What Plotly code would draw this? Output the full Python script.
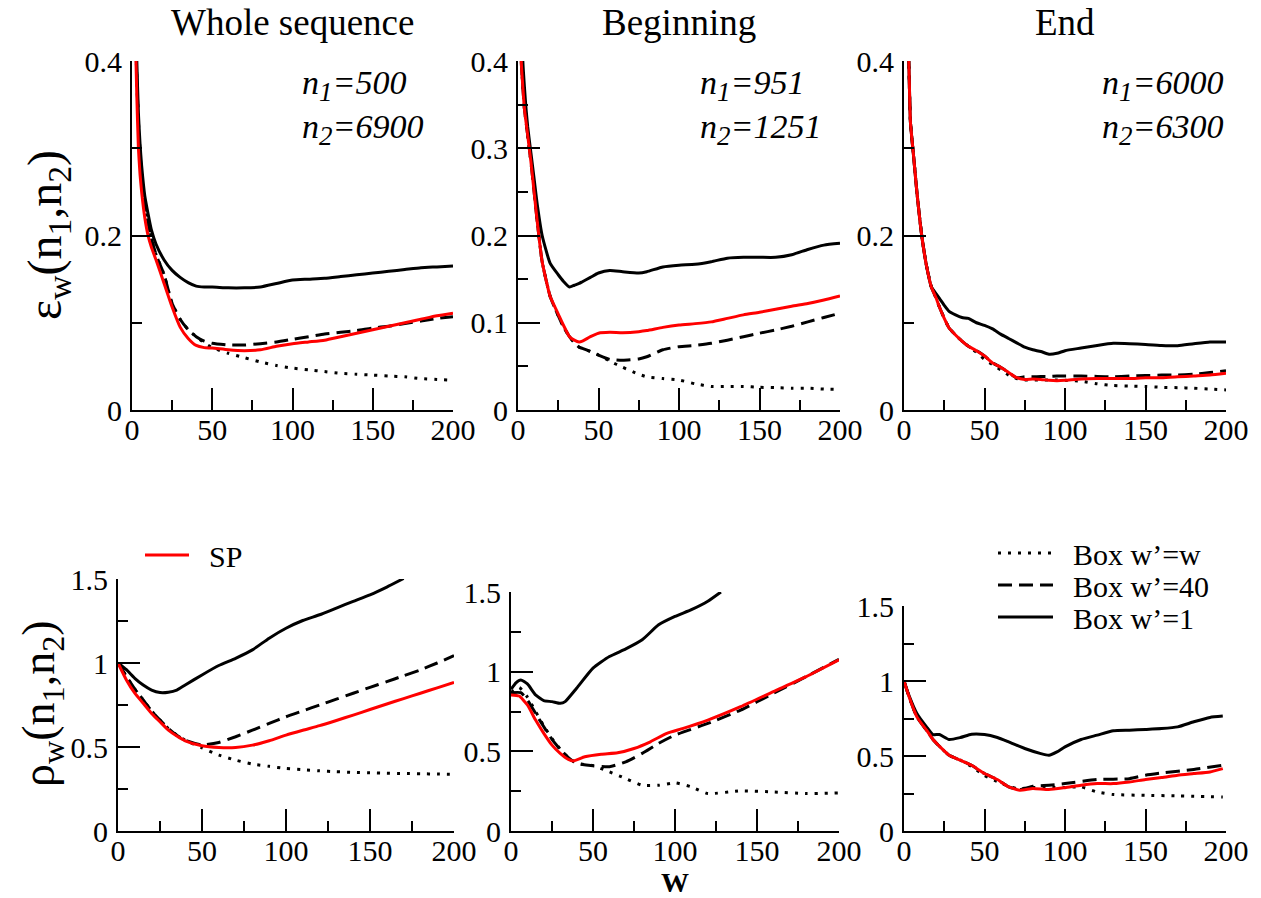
import plotly.graph_objects as go

# ---------------- data ----------------
# Top row: epsilon_w(n1,n2)
w_tl = [1,2,3,4,5,6,8,10,12,15,20,25,30,35,40,45,50,60,70,80,90,100,110,120,130,140,150,160,170,180,190,200]
eps_whole_box1 = [0.60,0.48,0.40,0.34,0.305,0.28,0.245,0.225,0.207,0.19,0.172,0.16,0.152,0.146,0.142,0.141,0.141,0.140,0.140,0.141,0.145,0.149,0.150,0.151,0.153,0.155,0.157,0.159,0.161,0.163,0.164,0.165]
eps_whole_sp = [0.55,0.44,0.36,0.30,0.27,0.25,0.22,0.20,0.187,0.172,0.145,0.118,0.095,0.082,0.074,0.0715,0.071,0.069,0.068,0.069,0.073,0.076,0.078,0.080,0.084,0.088,0.092,0.096,0.100,0.104,0.108,0.111]
eps_whole_box40 = [0.58,0.46,0.38,0.33,0.295,0.27,0.235,0.215,0.197,0.178,0.155,0.122,0.104,0.092,0.084,0.079,0.0765,0.0745,0.0745,0.076,0.078,0.081,0.084,0.087,0.089,0.091,0.094,0.096,0.099,0.102,0.105,0.107]
eps_whole_boxw = [0.58,0.46,0.38,0.33,0.295,0.27,0.235,0.215,0.197,0.178,0.155,0.122,0.104,0.092,0.084,0.077,0.0715,0.065,0.060,0.055,0.051,0.048,0.046,0.044,0.042,0.041,0.040,0.039,0.038,0.036,0.035,0.034]

w_tm = [1,2,3,4,5,6,8,10,12,15,20,25,28,32,35,38,40,45,50,57,65,75,80,90,100,110,120,130,140,150,160,170,180,190,200]
eps_begin_box1 = [0.60,0.48,0.40,0.37,0.345,0.325,0.295,0.265,0.235,0.20,0.168,0.155,0.148,0.141,0.143,0.145,0.147,0.152,0.157,0.160,0.1585,0.157,0.1585,0.164,0.166,0.167,0.170,0.174,0.175,0.175,0.175,0.178,0.184,0.189,0.191]
eps_begin_sp = [0.52,0.40,0.37,0.345,0.33,0.315,0.285,0.25,0.215,0.17,0.13,0.11,0.098,0.084,0.080,0.078,0.079,0.084,0.088,0.089,0.0886,0.0898,0.091,0.0947,0.0974,0.099,0.101,0.105,0.109,0.112,0.1154,0.119,0.122,0.126,0.1307]
eps_begin_box40 = [0.52,0.40,0.37,0.345,0.33,0.315,0.285,0.25,0.215,0.17,0.13,0.108,0.096,0.084,0.077,0.072,0.0707,0.067,0.063,0.058,0.057,0.0585,0.061,0.069,0.0726,0.074,0.0764,0.080,0.084,0.088,0.0917,0.096,0.101,0.106,0.111]
eps_begin_boxw = [0.52,0.40,0.37,0.345,0.33,0.315,0.285,0.25,0.215,0.17,0.13,0.108,0.096,0.084,0.077,0.072,0.0707,0.067,0.063,0.056,0.049,0.041,0.038,0.036,0.0344,0.030,0.027,0.027,0.027,0.026,0.0256,0.025,0.025,0.024,0.0237]

w_tr = [1,2,3,4,6,8,11,14,17,20,22,25,28,32,36,40,45,50,55,60,65,70,75,80,85,90,95,100,110,120,130,140,150,160,170,180,190,200]
eps_end_box1 = [0.60,0.47,0.40,0.33,0.29,0.25,0.20,0.165,0.141,0.133,0.128,0.12,0.113,0.109,0.106,0.105,0.100,0.097,0.093,0.087,0.082,0.077,0.072,0.069,0.067,0.064,0.065,0.068,0.071,0.074,0.0764,0.076,0.075,0.074,0.0737,0.076,0.078,0.078]
eps_end_sp = [0.60,0.47,0.40,0.33,0.29,0.25,0.20,0.165,0.141,0.128,0.118,0.105,0.094,0.086,0.079,0.073,0.068,0.062,0.054,0.049,0.043,0.037,0.035,0.0355,0.035,0.034,0.0336,0.034,0.0355,0.036,0.036,0.036,0.037,0.037,0.038,0.039,0.040,0.042]
eps_end_box40 = [0.60,0.47,0.40,0.33,0.29,0.25,0.20,0.165,0.141,0.128,0.118,0.105,0.094,0.086,0.079,0.073,0.068,0.062,0.054,0.049,0.043,0.037,0.038,0.038,0.0385,0.0385,0.039,0.039,0.039,0.0385,0.038,0.039,0.0394,0.040,0.040,0.041,0.043,0.045]
eps_end_boxw = [0.60,0.47,0.40,0.33,0.29,0.25,0.20,0.165,0.141,0.128,0.118,0.105,0.094,0.086,0.079,0.073,0.066,0.058,0.052,0.046,0.040,0.036,0.0345,0.0344,0.0344,0.0344,0.0344,0.034,0.033,0.030,0.028,0.0275,0.027,0.026,0.0256,0.025,0.024,0.023]

# Bottom row: rho_w(n1,n2)
w_bl = [0,5,10,15,20,25,30,35,40,50,60,70,80,90,100,110,120,130,140,150,160,170,180,190,200]
w_bl_box1 = [0,5,10,15,20,25,30,35,40,50,60,70,80,90,100,110,120,130,140,150,160,170]
rho_whole_box1 = [1.0,0.96,0.909,0.869,0.839,0.824,0.826,0.839,0.869,0.929,0.985,1.028,1.078,1.148,1.207,1.253,1.287,1.327,1.367,1.406,1.452,1.503]
rho_whole_sp = [1.0,0.899,0.82,0.76,0.70,0.65,0.60,0.565,0.537,0.507,0.497,0.497,0.511,0.537,0.571,0.60,0.627,0.658,0.69,0.723,0.756,0.788,0.82,0.852,0.885]
rho_whole_box40 = [1.0,0.92,0.845,0.78,0.715,0.66,0.61,0.57,0.54,0.512,0.527,0.561,0.60,0.64,0.68,0.715,0.75,0.785,0.82,0.855,0.889,0.924,0.959,1.0,1.044]
rho_whole_boxw = [1.0,0.92,0.845,0.78,0.715,0.66,0.61,0.57,0.54,0.495,0.452,0.422,0.398,0.385,0.372,0.365,0.358,0.353,0.349,0.346,0.344,0.342,0.341,0.339,0.338]

w_bm_box1 = [0,3,6,10,15,20,25,30,33,40,50,60,70,80,90,100,110,120,128]
rho_begin_box1 = [0.889,0.93,0.948,0.923,0.854,0.818,0.812,0.801,0.812,0.896,1.022,1.095,1.143,1.20,1.294,1.347,1.389,1.442,1.50]
w_bm_sp = [0,5,10,15,20,25,30,35,38,45,55,65,75,85,95,105,120,140,160,180,200]
rho_begin_sp = [0.854,0.847,0.791,0.696,0.613,0.539,0.487,0.449,0.44,0.466,0.482,0.491,0.518,0.56,0.613,0.644,0.696,0.78,0.875,0.969,1.074]
w_bm_box40 = [0,6,10,15,20,25,30,35,40,50,60,70,80,90,100,120,140,160,180,200]
rho_begin_box40 = [0.868,0.868,0.822,0.738,0.654,0.575,0.512,0.461,0.424,0.409,0.403,0.434,0.487,0.55,0.602,0.675,0.759,0.864,0.969,1.078]
w_bm_boxw = [0,5,10,15,20,25,30,35,40,50,60,70,80,90,100,110,120,140,160,180,200]
rho_begin_boxw = [0.87,0.90,0.84,0.75,0.66,0.58,0.515,0.46,0.425,0.41,0.371,0.329,0.287,0.287,0.302,0.277,0.235,0.252,0.245,0.235,0.239]

w_br_box1 = [0,3,8,14,18,22,28,35,42,50,58,65,75,85,90,95,100,110,120,130,140,150,160,170,180,190,198]
rho_end_box1 = [1.0,0.906,0.783,0.694,0.643,0.643,0.61,0.623,0.645,0.643,0.623,0.594,0.55,0.516,0.505,0.527,0.561,0.61,0.639,0.668,0.672,0.677,0.683,0.694,0.728,0.757,0.766]
w_br_sp = [0,3,8,14,18,22,28,35,42,50,58,65,72,80,90,100,110,120,130,140,150,160,170,180,190,198]
rho_end_sp = [1.0,0.9,0.761,0.672,0.61,0.565,0.505,0.472,0.438,0.383,0.343,0.294,0.272,0.283,0.276,0.289,0.305,0.316,0.316,0.327,0.343,0.356,0.372,0.383,0.394,0.416]
w_br_box40 = [0,3,8,14,18,22,28,35,42,50,58,65,72,80,90,100,120,140,150,160,180,198]
rho_end_box40 = [1.0,0.9,0.761,0.672,0.61,0.565,0.505,0.472,0.438,0.383,0.343,0.294,0.276,0.298,0.305,0.316,0.343,0.349,0.372,0.387,0.41,0.438]
w_br_boxw = [0,3,8,14,18,22,28,35,42,50,60,70,80,90,100,110,120,130,150,170,198]
rho_end_boxw = [1.0,0.9,0.761,0.672,0.61,0.565,0.505,0.472,0.43,0.37,0.32,0.283,0.29,0.29,0.29,0.294,0.26,0.243,0.238,0.234,0.227]

panel_titles = ["Whole sequence", "Beginning", "End"]
n_labels = [("500", "6900"), ("951", "1251"), ("6000", "6300")]
legend_names = ["SP", "Box w\u2019=w", "Box w\u2019=40", "Box w\u2019=1"]

# ---------------- layout helpers ----------------
W, H = 1261, 898
FONT = "Liberation Serif"

def px_dom_x(a, b):
    return [a / W, b / W]

def px_dom_y(top, bottom):
    return [1 - bottom / H, 1 - top / H]

panels = {
    1: dict(x=px_dom_x(132, 453), y=px_dom_y(61, 410), yr=[0, 0.4], dt=0.2, mdt=0.1),
    2: dict(x=px_dom_x(518, 840), y=px_dom_y(61, 410), yr=[0, 0.4], dt=0.1, mdt=0.05),
    3: dict(x=px_dom_x(904, 1226), y=px_dom_y(61, 410), yr=[0, 0.4], dt=0.2, mdt=0.1),
    4: dict(x=px_dom_x(118, 454), y=px_dom_y(579, 831), yr=[0, 1.5], dt=0.5, mdt=0.25),
    5: dict(x=px_dom_x(511, 839), y=px_dom_y(592, 831), yr=[0, 1.5], dt=0.5, mdt=0.25),
    6: dict(x=px_dom_x(904, 1226), y=px_dom_y(606, 831), yr=[0, 1.5], dt=0.5, mdt=0.25),
}

RED = "#ff0000"
BLACK = "#000000"
LW = 3
styles = {
    "sp": dict(color=RED, width=LW),
    "box1": dict(color=BLACK, width=LW),
    "box40": dict(color=BLACK, width=LW, dash="14px,7px"),
    "boxw": dict(color=BLACK, width=LW, dash="3px,7px"),
}

fig = go.Figure()

def add(p, x, y, kind, name=None, legend=None):
    ax = "" if p == 1 else str(p)
    tr = go.Scatter(x=x, y=y, mode="lines", line=dict(shape="spline", smoothing=0.5, **styles[kind]),
                    xaxis="x" + ax, yaxis="y" + ax, showlegend=legend is not None,
                    name=name if name else kind, hoverinfo="skip")
    if legend is not None:
        tr.legend = legend
    fig.add_trace(tr)

# panel 1
add(1, w_tl, eps_whole_boxw, "boxw")
add(1, w_tl, eps_whole_box40, "box40")
add(1, w_tl, eps_whole_box1, "box1")
add(1, w_tl, eps_whole_sp, "sp")
# panel 2
add(2, w_tm, eps_begin_boxw, "boxw")
add(2, w_tm, eps_begin_box40, "box40")
add(2, w_tm, eps_begin_box1, "box1")
add(2, w_tm, eps_begin_sp, "sp")
# panel 3
add(3, w_tr, eps_end_boxw, "boxw")
add(3, w_tr, eps_end_box40, "box40")
add(3, w_tr, eps_end_box1, "box1")
add(3, w_tr, eps_end_sp, "sp")
# panel 4
add(4, w_bl, rho_whole_boxw, "boxw")
add(4, w_bl, rho_whole_box40, "box40")
add(4, w_bl_box1, rho_whole_box1, "box1")
add(4, w_bl, rho_whole_sp, "sp", name="\u2002" + legend_names[0], legend="legend")
# panel 5
add(5, w_bm_boxw, rho_begin_boxw, "boxw")
add(5, w_bm_box40, rho_begin_box40, "box40")
add(5, w_bm_box1, rho_begin_box1, "box1")
add(5, w_bm_sp, rho_begin_sp, "sp")
# panel 6
add(6, w_br_boxw, rho_end_boxw, "boxw", name="\u2002" + legend_names[1], legend="legend2")
add(6, w_br_box40, rho_end_box40, "box40", name="\u2002" + legend_names[2], legend="legend3")
add(6, w_br_box1, rho_end_box1, "box1", name="\u2002" + legend_names[3], legend="legend4")
add(6, w_br_sp, rho_end_sp, "sp")

tickfont = dict(family=FONT, size=30, color="black")
layout = dict(
    width=W, height=H, margin=dict(l=0, r=0, t=0, b=0, pad=0, autoexpand=False),
    paper_bgcolor="white", plot_bgcolor="white",
    font=dict(family=FONT, color="black"),
)
for p, d in panels.items():
    ax = "" if p == 1 else str(p)
    common = dict(showline=True, linecolor="black", linewidth=2, ticks="inside", ticklen=22,
                  tickwidth=2, tickcolor="black", showgrid=False, zeroline=False,
                  tickfont=tickfont, automargin=False)
    layout["xaxis" + ax] = dict(domain=d["x"], range=[0, 200], dtick=50, tick0=0,
                               anchor="y" + ax, ticklabelstandoff=-8,
                               minor=dict(ticks="inside", ticklen=10, tickwidth=2, tickcolor="black", dtick=25, tick0=0),
                               **common)
    layout["yaxis" + ax] = dict(domain=d["y"], range=d["yr"], dtick=d["dt"], tick0=0,
                               anchor="x" + ax, ticklabelstandoff=2,
                               minor=dict(ticks="inside", ticklen=10, tickwidth=2, tickcolor="black", dtick=d["mdt"], tick0=0),
                               **common)

leg_common = dict(bgcolor="rgba(0,0,0,0)", borderwidth=0, font=dict(family=FONT, size=30, color="black"),
                  xanchor="left", yanchor="middle", itemwidth=44, tracegroupgap=0)
layout["legend"] = dict(x=140 / W, y=1 - 555 / H, **leg_common)
leg_box = dict(leg_common, itemwidth=55)
layout["legend2"] = dict(x=993 / W, y=1 - 553 / H, **leg_box)
layout["legend3"] = dict(x=993 / W, y=1 - 585 / H, **leg_box)
layout["legend4"] = dict(x=993 / W, y=1 - 617 / H, **leg_box)

fig.update_layout(**layout)

annotations = []
top_axes = ["x", "x2", "x3"]
n_left_px = [300, 698, 1100]
sub = "<sub><span style='font-size:27px'>%s</span></sub>"
for i, t in enumerate(panel_titles):
    annotations.append(dict(text=t, xref=top_axes[i] + " domain", x=0.5, yref="paper", y=1.0,
                            xanchor="center", yanchor="top", showarrow=False,
                            font=dict(family=FONT, size=37, color="black")))
    a, b = n_labels[i]
    annotations.append(dict(text=("<i>n" + sub + "=%s</i><br><i>n" + sub + "=%s</i>") % ("1", a, "2", b),
                            xref="paper", x=n_left_px[i] / W, yref="paper", y=1 - 62 / H,
                            xanchor="left", yanchor="top", align="left", showarrow=False,
                            font=dict(family=FONT, size=34, color="black")))
annotations.append(dict(text="\u03b5<sub>w</sub>(n<sub>1</sub>,n<sub>2</sub>)", textangle=-90,
                        xref="paper", x=48 / W, yref="paper", y=1 - 235 / H,
                        xanchor="center", yanchor="middle", showarrow=False,
                        font=dict(family=FONT, size=48, color="black")))
annotations.append(dict(text="\u03c1<sub>w</sub>(n<sub>1</sub>,n<sub>2</sub>)", textangle=-90,
                        xref="paper", x=42 / W, yref="paper", y=1 - 704 / H,
                        xanchor="center", yanchor="middle", showarrow=False,
                        font=dict(family=FONT, size=46, color="black")))
annotations.append(dict(text="<b>W</b>", xref="x5 domain", x=0.5, yref="paper", y=1 - 882 / H,
                        xanchor="center", yanchor="middle", showarrow=False,
                        font=dict(family=FONT, size=28, color="black")))
fig.update_layout(annotations=annotations)

fig.write_html("out.html", config={"displayModeBar": False},
               post_script="document.body.style.margin='0';document.body.style.overflow='hidden';")
